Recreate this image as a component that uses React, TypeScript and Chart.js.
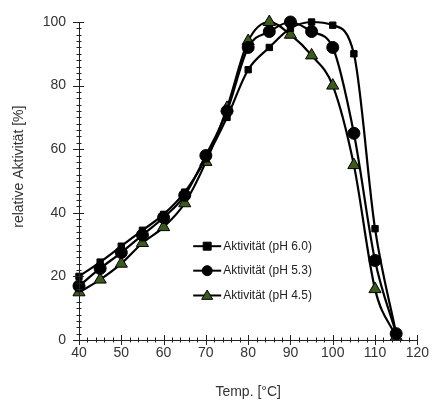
import React, { useEffect, useRef } from "react";
import { Chart, registerables } from "chart.js";

Chart.register(...registerables);

const temps = [40, 45, 50, 55, 60, 65, 70, 75, 80, 85, 90, 95, 100, 105, 110, 115];
const ph60 = [20, 24.5, 29.5, 34.5, 39.5, 46.5, 57, 70, 85, 92, 98, 100, 99, 90, 35, 2];
const ph53 = [17, 22.5, 27.5, 33, 38.5, 45.5, 58, 72, 92, 97, 100, 97, 92, 65, 25, 2];
const ph45 = [15, 19, 24, 30.5, 35.5, 43, 56, 73, 94, 100, 96, 89.5, 80, 55, 16, 1];
const seriesLabels = ["Aktivität (pH 6.0)", "Aktivität (pH 5.3)", "Aktivität (pH 4.5)"];
const xTitle = "Temp. [°C]";
const yTitle = "relative Aktivität [%]";

const GREEN = "#3b5b1c";
const FONT = "'Liberation Sans', Arial, sans-serif";

const axesPlugin = {
  id: "customAxes",
  afterDraw(chart: any) {
    const ctx = chart.ctx;
    const xs = chart.scales.x;
    const ys = chart.scales.y;
    const { left, right, top, bottom } = chart.chartArea;
    ctx.save();
    ctx.strokeStyle = "#222";
    ctx.lineWidth = 1;
    ctx.beginPath();
    ctx.moveTo(left + 0.5, top);
    ctx.lineTo(left + 0.5, bottom + 0.5);
    ctx.lineTo(right, bottom + 0.5);
    ctx.stroke();
    ctx.beginPath();
    for (let v = 40; v <= 120; v += 2) {
      const px = Math.round(xs.getPixelForValue(v)) + 0.5;
      const major = v % 10 === 0;
      ctx.moveTo(px, bottom - (major ? 5 : 2.5));
      ctx.lineTo(px, bottom + (major ? 5 : 2.5));
    }
    for (let v = 0; v <= 100; v += 2) {
      const py = Math.round(ys.getPixelForValue(v)) + 0.5;
      const major = v % 20 === 0;
      ctx.moveTo(left - (major ? 6 : 2.5), py);
      ctx.lineTo(left + (major ? 5 : 2.5), py);
    }
    ctx.stroke();

    // y axis title
    ctx.save();
    ctx.translate(19, ys.getPixelForValue(54.5));
    ctx.rotate(-Math.PI / 2);
    ctx.fillStyle = "#333";
    ctx.font = `14px ${FONT}`;
    ctx.textAlign = "center";
    ctx.textBaseline = "middle";
    ctx.fillText(yTitle, 0, 0);
    ctx.restore();

    // legend inside plot
    const lx = xs.getPixelForValue(67);
    const rowsY = [ys.getPixelForValue(29.5), ys.getPixelForValue(21.8), ys.getPixelForValue(14)];
    const styles = ["rect", "circle", "triangle"];
    const fills = ["#000", "#000", GREEN];
    const sizes = [4, 5, 5.5];
    ctx.font = `12px ${FONT}`;
    ctx.textBaseline = "middle";
    ctx.textAlign = "left";
    for (let i = 0; i < 3; i++) {
      const y = rowsY[i];
      ctx.strokeStyle = "#000";
      ctx.lineWidth = 2;
      ctx.beginPath();
      ctx.moveTo(lx, y);
      ctx.lineTo(lx + 28, y);
      ctx.stroke();
      ctx.fillStyle = fills[i];
      ctx.lineWidth = 1;
      const cx = lx + 14;
      const s = sizes[i];
      ctx.beginPath();
      if (styles[i] === "rect") {
        ctx.rect(cx - s, y - s, 2 * s, 2 * s);
      } else if (styles[i] === "circle") {
        ctx.arc(cx, y, s, 0, Math.PI * 2);
      } else {
        ctx.moveTo(cx, y - s);
        ctx.lineTo(cx + s, y + s * 0.7);
        ctx.lineTo(cx - s, y + s * 0.7);
        ctx.closePath();
      }
      ctx.fill();
      ctx.stroke();
      ctx.fillStyle = "#222";
      ctx.fillText(seriesLabels[i], lx + 30, y);
    }
    ctx.restore();
  },
};

export default function App() {
  const ref = useRef<HTMLCanvasElement>(null);
  useEffect(() => {
    const common = {
      borderColor: "#000",
      borderWidth: 2.2,
      cubicInterpolationMode: "monotone",
      pointBorderColor: "#000",
      pointBorderWidth: 1,
      clip: false,
    };
    const chart = new Chart(ref.current as HTMLCanvasElement, {
      type: "line",
      data: {
        datasets: [
          {
            ...common,
            label: seriesLabels[0],
            data: temps.map((t, i) => ({ x: t, y: ph60[i] })),
            pointStyle: "rect",
            pointRadius: 4.5,
            pointBackgroundColor: "#000",
          },
          {
            ...common,
            label: seriesLabels[1],
            data: temps.map((t, i) => ({ x: t, y: ph53[i] })),
            pointStyle: "circle",
            pointRadius: 6,
            pointBackgroundColor: "#000",
          },
          {
            ...common,
            label: seriesLabels[2],
            data: temps.map((t, i) => ({ x: t, y: ph45[i] })),
            pointStyle: "triangle",
            pointRadius: 7,
            pointBackgroundColor: GREEN,
          },
        ],
      },
      options: {
        animation: false,
        responsive: true,
        maintainAspectRatio: false,
        layout: { padding: { left: 0, right: 16, top: 22, bottom: 0 } },
        plugins: { legend: { display: false }, tooltip: { enabled: false } },
        scales: {
          x: {
            type: "linear",
            min: 40,
            max: 120,
            grid: { display: false, drawTicks: false },
            border: { display: false },
            ticks: {
              stepSize: 10,
              padding: 5,
              color: "#333",
              font: { family: FONT, size: 14 },
            },
            title: {
              display: true,
              text: xTitle,
              color: "#333",
              font: { family: FONT, size: 14 },
              padding: { top: 0, bottom: 13 },
            },
            afterFit(scale: any) {
              scale.height = 74;
            },
          },
          y: {
            min: 0,
            max: 100,
            grid: { display: false, drawTicks: false },
            border: { display: false },
            ticks: {
              stepSize: 20,
              padding: 13,
              color: "#333",
              font: { family: FONT, size: 14 },
            },
            title: { display: false },
            afterFit(scale: any) {
              scale.width = 79;
            },
          },
        },
      },
      plugins: [axesPlugin],
    } as any);
    return () => chart.destroy();
  }, []);
  return (
    <div style={{ position: "fixed", left: 0, top: 0, width: 434, height: 414, background: "#fff" }}>
      <canvas ref={ref} />
    </div>
  );
}
